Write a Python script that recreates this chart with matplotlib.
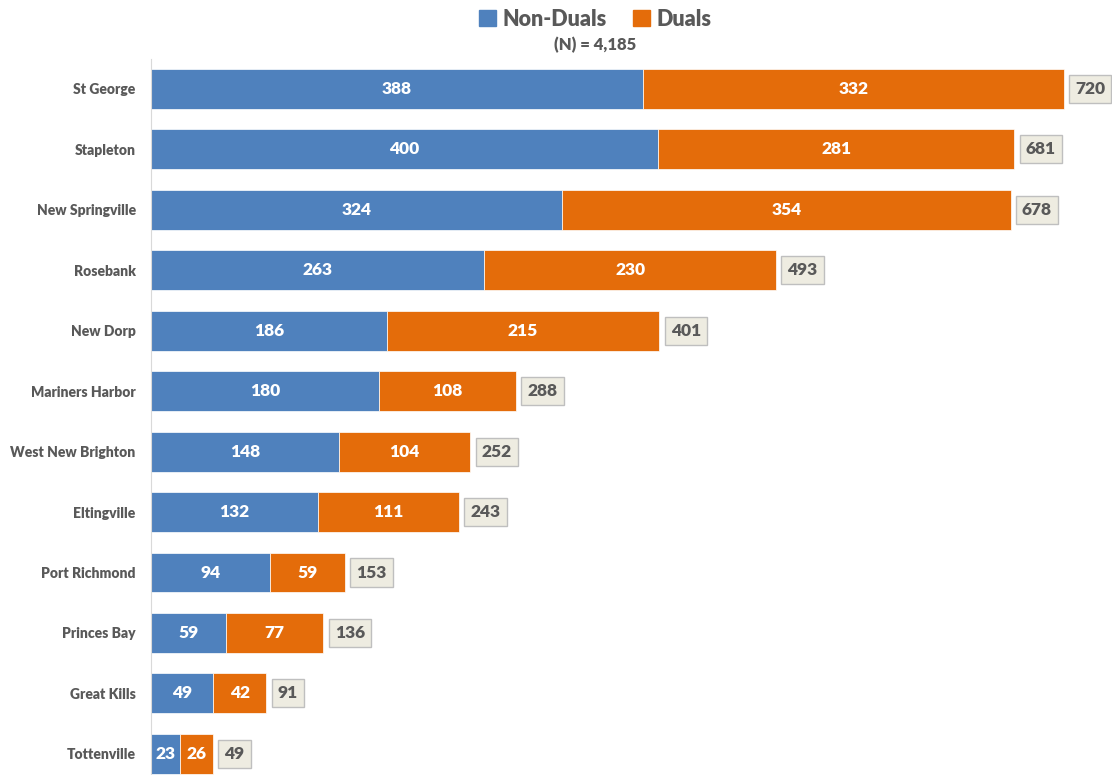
import matplotlib.pyplot as plt
from matplotlib.patches import Patch

areas = ['St George', 'Stapleton', 'New Springville', 'Rosebank', 'New Dorp',
         'Mariners Harbor', 'West New Brighton', 'Eltingville', 'Port Richmond',
         'Princes Bay', 'Great Kills', 'Tottenville']
non_duals = [388, 400, 324, 263, 186, 180, 148, 132, 94, 59, 49, 23]
duals = [332, 281, 354, 230, 215, 108, 104, 111, 59, 77, 42, 26]
totals = [a + b for a, b in zip(non_duals, duals)]

blue = '#4F81BD'
orange = '#E46C0A'
grey = '#595959'

plt.rcParams['font.family'] = ['Lato', 'DejaVu Sans']

fig = plt.figure(figsize=(11.12, 7.75), dpi=100)
ax = fig.add_axes([151 / 1112, 0, 1 - 151 / 1112, (775 - 59) / 775])

y = list(range(len(areas)))
ax.barh(y, non_duals, height=0.66, color=blue, edgecolor='white', linewidth=0.5)
ax.barh(y, duals, left=non_duals, height=0.66, color=orange, edgecolor='white', linewidth=0.5)

for i in y:
    ax.text(non_duals[i] / 2, i, str(non_duals[i]), ha='center', va='center',
            color='white', fontsize=12.5, fontweight='heavy')
    ax.text(non_duals[i] + duals[i] / 2, i, str(duals[i]), ha='center', va='center',
            color='white', fontsize=12.5, fontweight='heavy')
    ax.text(totals[i] + 9, i, str(totals[i]), ha='left', va='center',
            color=grey, fontsize=12.5, fontweight='heavy',
            bbox=dict(boxstyle='square,pad=0.35', facecolor='#EEECE1', edgecolor='#BFBFBF', linewidth=1))

ax.set_xlim(0, 758)
ax.set_ylim(11.35, -0.496)
ax.set_yticks(y)
ax.set_yticklabels(areas, fontsize=10, fontweight='heavy', color=grey)
ax.tick_params(axis='y', length=0, pad=11)
ax.set_xticks([])
for side in ['top', 'right', 'bottom']:
    ax.spines[side].set_visible(False)
ax.spines['left'].set_color('#D9D9D9')

handles = [Patch(color=blue, label='Non-Duals'), Patch(color=orange, label='Duals')]
leg = fig.legend(handles=handles, loc='center', bbox_to_anchor=(595 / 1112, 1 - 19 / 775),
                 ncol=2, frameon=False, fontsize=15.5, handlelength=0.8, handleheight=0.8,
                 handletextpad=0.3, columnspacing=1.2)
for t in leg.get_texts():
    t.set_color(grey)
    t.set_fontweight('heavy')

fig.text(595 / 1112, 1 - 45 / 775, '(N) = 4,185', ha='center', va='center',
         fontsize=12, fontweight='heavy', color=grey)

fig.savefig('out.png', dpi=100)
